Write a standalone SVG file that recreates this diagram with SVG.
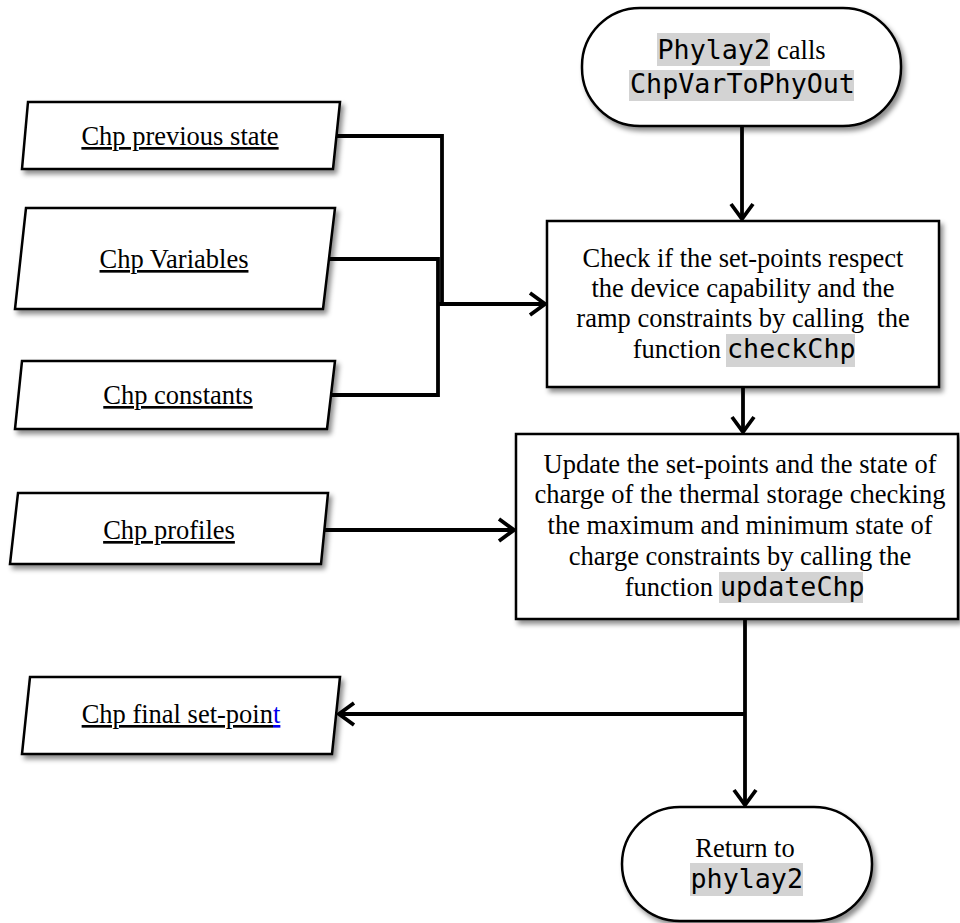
<svg xmlns="http://www.w3.org/2000/svg" width="960" height="923" viewBox="0 0 960 923">
<style>
.node{fill:#fff;stroke:#000;stroke-width:2.5;filter:url(#sh)}
.t{font-family:"Liberation Serif","Times New Roman",serif;font-size:26.5px;fill:#000}
.m{font-family:"DejaVu Sans Mono",monospace;font-size:26.7px;fill:#000}
.hl{fill:#d3d3d3}
.c{text-anchor:middle}
.u{text-decoration:underline}
.conn{fill:none;stroke:#000;stroke-width:3.8}
</style>
<defs>
<filter id="sh" x="-10%" y="-10%" width="130%" height="140%">
<feDropShadow dx="3" dy="4" stdDeviation="2.5" flood-color="#000" flood-opacity="0.45"/>
</filter>
<marker id="ah" viewBox="0 0 20 26" refX="17" refY="13" markerWidth="20" markerHeight="26" markerUnits="userSpaceOnUse" orient="auto">
<path d="M2,2 L17,13 L2,24" fill="none" stroke="#000" stroke-width="3.8"/>
</marker>
</defs>
<rect width="960" height="923" fill="#fff"/>

<g id="connectors">
<path class="conn" d="M742,126 V219" marker-end="url(#ah)"/>
<path class="conn" d="M337,136 H442 V304"/>
<path class="conn" d="M329,259 H438 V395 H331"/>
<path class="conn" d="M438,304 H545" marker-end="url(#ah)"/>
<path class="conn" d="M743,387 V432" marker-end="url(#ah)"/>
<path class="conn" d="M325,530 H514" marker-end="url(#ah)"/>
<path class="conn" d="M745,619 V805" marker-end="url(#ah)"/>
<path class="conn" d="M745,714 H339" marker-end="url(#ah)"/>
</g>

<g id="start">
<rect class="node" x="582" y="8" width="319" height="118" rx="58"/>
<rect class="hl" x="657" y="33" width="113" height="33"/>
<text class="m" x="657.5" y="59">Phylay2</text>
<text class="t" x="777" y="59">calls</text>
<rect class="hl" x="629" y="70" width="225" height="31"/>
<text class="m" x="630" y="93">ChpVarToPhyOut</text>
</g>

<g id="prev-state">
<polygon class="node" points="28,102 340,102 333,169 22,169"/>
<text class="t c u" x="180" y="145">Chp previous state</text>
</g>

<g id="variables">
<polygon class="node" points="26,208 335,208 323,309 15,309"/>
<text class="t c u" x="174" y="268">Chp Variables</text>
</g>

<g id="constants">
<polygon class="node" points="22,361 335,361 327,429 15,429"/>
<text class="t c u" x="178" y="404">Chp constants</text>
</g>

<g id="check">
<rect class="node" x="547" y="221" width="392" height="166"/>
<text class="t c" x="743" y="267">Check if the set-points respect</text>
<text class="t c" x="743" y="297">the device capability and the</text>
<text class="t c" x="743" y="327" style="white-space:pre">ramp constraints by calling  the</text>
<text class="t" x="721" y="358" text-anchor="end">function</text>
<rect class="hl" x="726" y="334" width="129" height="33"/>
<text class="m" x="727" y="358">checkChp</text>
</g>

<g id="profiles">
<polygon class="node" points="18,493 328,493 321,564 10,564"/>
<text class="t c u" x="169" y="539">Chp profiles</text>
</g>

<g id="update">
<rect class="node" x="516" y="434" width="442" height="185"/>
<text class="t c" x="740" y="473">Update the set-points and the state of</text>
<text class="t c" x="740" y="503">charge of the thermal storage checking</text>
<text class="t c" x="740" y="534">the maximum and minimum state of</text>
<text class="t c" x="740" y="565">charge constraints by calling the</text>
<text class="t" x="713" y="596" text-anchor="end">function</text>
<rect class="hl" x="719" y="572" width="144" height="31"/>
<text class="m" x="720" y="596">updateChp</text>
</g>

<g id="final">
<polygon class="node" points="30,677 340,677 332,754 22,754"/>
<text class="t c" x="181" y="723"><tspan class="u">Chp final set-poin</tspan><tspan class="u" fill="#0000ee">t</tspan></text>
</g>

<g id="return">
<rect class="node" x="622" y="807" width="250" height="114" rx="58"/>
<text class="t c" x="745" y="857">Return to</text>
<rect class="hl" x="690" y="863" width="113" height="33"/>
<text class="m" x="690.5" y="888">phylay2</text>
</g>
</svg>
